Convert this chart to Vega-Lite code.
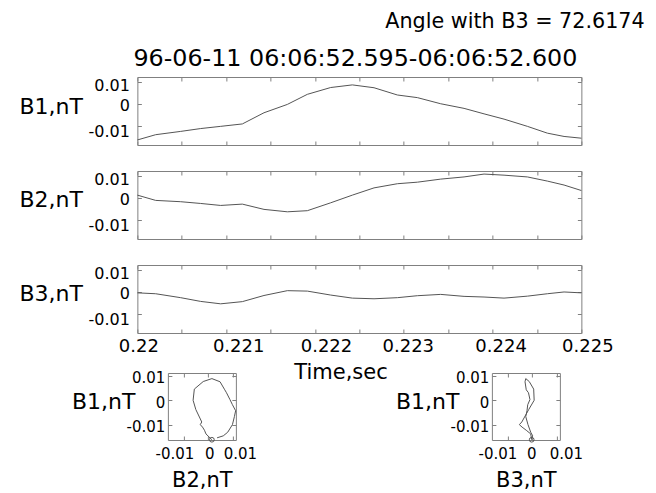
{
  "$schema": "https://vega.github.io/schema/vega-lite/v6.json",
  "padding": {"left": 18, "top": 10, "right": 5, "bottom": 2},
  "background": "white",
  "data": {"values": [
    {"t": 0.22, "B1": -0.0162, "B2": 0.0015, "B3": -0.0002},
    {"t": 0.220206, "B1": -0.0138, "B2": -0.0009, "B3": -0.0006},
    {"t": 0.220488, "B1": -0.0123, "B2": -0.0015, "B3": -0.0024},
    {"t": 0.220713, "B1": -0.0110, "B2": -0.0023, "B3": -0.0041},
    {"t": 0.220938, "B1": -0.0100, "B2": -0.0032, "B3": -0.0052},
    {"t": 0.221182, "B1": -0.0089, "B2": -0.0026, "B3": -0.0042},
    {"t": 0.221426, "B1": -0.0038, "B2": -0.0050, "B3": -0.0014},
    {"t": 0.221689, "B1": 0.0000, "B2": -0.0061, "B3": 0.0008},
    {"t": 0.221914, "B1": 0.0046, "B2": -0.0056, "B3": 0.0006},
    {"t": 0.222177, "B1": 0.0077, "B2": -0.0020, "B3": -0.0012},
    {"t": 0.222421, "B1": 0.0089, "B2": 0.0015, "B3": -0.0026},
    {"t": 0.222665, "B1": 0.0076, "B2": 0.0048, "B3": -0.0029},
    {"t": 0.222928, "B1": 0.0043, "B2": 0.0067, "B3": -0.0024},
    {"t": 0.223153, "B1": 0.0031, "B2": 0.0074, "B3": -0.0015},
    {"t": 0.223416, "B1": 0.0003, "B2": 0.0088, "B3": -0.0009},
    {"t": 0.223679, "B1": -0.0018, "B2": 0.0098, "B3": -0.0018},
    {"t": 0.223904, "B1": -0.0043, "B2": 0.0111, "B3": -0.0021},
    {"t": 0.224129, "B1": -0.0067, "B2": 0.0106, "B3": -0.0026},
    {"t": 0.224392, "B1": -0.0100, "B2": 0.0098, "B3": -0.0017},
    {"t": 0.224617, "B1": -0.0131, "B2": 0.0079, "B3": -0.0006},
    {"t": 0.224805, "B1": -0.0146, "B2": 0.0061, "B3": 0.0002},
    {"t": 0.225, "B1": -0.0154, "B2": 0.0036, "B3": -0.0002}
  ]},
  "title": {"text": "Angle with B3 = 72.6174", "anchor": "end", "fontSize": 20.7, "dx": 31, "offset": 14},
  "vconcat": [
    {
      "vconcat": [
        {
          "width": 444, "height": 68,
          "title": {"text": "96-06-11 06:06:52.595-06:06:52.600", "fontSize": 23.8, "anchor": "middle", "dx": -4, "offset": 6},
          "layer": [
            {"mark": {"type": "line", "color": "#555555", "strokeWidth": 1},
             "encoding": {
               "x": {"field": "t", "type": "quantitative", "scale": {"domain": [0.22, 0.225], "nice": false, "zero": false},
                     "axis": {"orient": "bottom", "values": [0.22, 0.2205, 0.221, 0.2215, 0.222, 0.2225, 0.223, 0.2235, 0.224, 0.2245, 0.225], "labels": false, "title": null}},
               "y": {"field": "B1", "type": "quantitative", "scale": {"domain": [-0.0185, 0.0125], "nice": false, "zero": false},
                     "axis": {"orient": "left", "values": [-0.01, 0, 0.01], "format": "~g", "labelExpr": "replace(datum.label, '−', '-')", "labelFontSize": 16, "labelPadding": 12,
                              "labelOffset": {"condition": [{"test": "datum.value > 0.005", "value": 3}, {"test": "datum.value < -0.005", "value": 5}], "value": 1},
                              "title": "B1,nT", "titleAngle": 0, "titleAlign": "right", "titleBaseline": "middle", "titleX": -55, "titleY": 29, "titleFontSize": 22}}
             }},
            {"mark": {"type": "line", "strokeOpacity": 0},
             "encoding": {
               "x": {"field": "t", "type": "quantitative", "axis": {"orient": "top", "values": [0.22, 0.2205, 0.221, 0.2215, 0.222, 0.2225, 0.223, 0.2235, 0.224, 0.2245, 0.225], "labels": false, "title": null}},
               "y": {"field": "B1", "type": "quantitative", "axis": {"orient": "right", "values": [-0.01, 0, 0.01], "labels": false, "title": null}}
             }}
          ],
          "resolve": {"axis": {"x": "independent", "y": "independent"}}
        },
        {
          "width": 444, "height": 68,
          "layer": [
            {"mark": {"type": "line", "color": "#555555", "strokeWidth": 1},
             "encoding": {
               "x": {"field": "t", "type": "quantitative", "scale": {"domain": [0.22, 0.225], "nice": false, "zero": false},
                     "axis": {"orient": "bottom", "values": [0.22, 0.2205, 0.221, 0.2215, 0.222, 0.2225, 0.223, 0.2235, 0.224, 0.2245, 0.225], "labels": false, "title": null}},
               "y": {"field": "B2", "type": "quantitative", "scale": {"domain": [-0.0185, 0.0125], "nice": false, "zero": false},
                     "axis": {"orient": "left", "values": [-0.01, 0, 0.01], "format": "~g", "labelExpr": "replace(datum.label, '−', '-')", "labelFontSize": 16, "labelPadding": 12,
                              "labelOffset": {"condition": [{"test": "datum.value > 0.005", "value": 3}, {"test": "datum.value < -0.005", "value": 5}], "value": 1},
                              "title": "B2,nT", "titleAngle": 0, "titleAlign": "right", "titleBaseline": "middle", "titleX": -55, "titleY": 28, "titleFontSize": 22}}
             }},
            {"mark": {"type": "line", "strokeOpacity": 0},
             "encoding": {
               "x": {"field": "t", "type": "quantitative", "axis": {"orient": "top", "values": [0.22, 0.2205, 0.221, 0.2215, 0.222, 0.2225, 0.223, 0.2235, 0.224, 0.2245, 0.225], "labels": false, "title": null}},
               "y": {"field": "B2", "type": "quantitative", "axis": {"orient": "right", "values": [-0.01, 0, 0.01], "labels": false, "title": null}}
             }}
          ],
          "resolve": {"axis": {"x": "independent", "y": "independent"}}
        },
        {
          "width": 444, "height": 68,
          "layer": [
            {"mark": {"type": "line", "color": "#555555", "strokeWidth": 1},
             "encoding": {
               "x": {"field": "t", "type": "quantitative", "scale": {"domain": [0.22, 0.225], "nice": false, "zero": false},
                     "axis": {"orient": "bottom", "values": [0.22, 0.2205, 0.221, 0.2215, 0.222, 0.2225, 0.223, 0.2235, 0.224, 0.2245, 0.225],
                              "labelExpr": "round(datum.value * 2000) % 2 ? '' : format(datum.value, '~g')", "labelFontSize": 18, "labelPadding": 8,
                              "labelOffset": {"condition": [
                                {"test": "abs(datum.value - 0.221) < 0.00001", "value": 12},
                                {"test": "abs(datum.value - 0.222) < 0.00001", "value": 11},
                                {"test": "abs(datum.value - 0.223) < 0.00001", "value": 4},
                                {"test": "abs(datum.value - 0.224) < 0.00001", "value": 8},
                                {"test": "abs(datum.value - 0.225) < 0.00001", "value": 6}], "value": 1},
                              "title": null}},
               "y": {"field": "B3", "type": "quantitative", "scale": {"domain": [-0.0185, 0.0125], "nice": false, "zero": false},
                     "axis": {"orient": "left", "values": [-0.01, 0, 0.01], "format": "~g", "labelExpr": "replace(datum.label, '−', '-')", "labelFontSize": 16, "labelPadding": 12,
                              "labelOffset": {"condition": [{"test": "datum.value > 0.005", "value": 3}, {"test": "datum.value < -0.005", "value": 5}], "value": 1},
                              "title": "B3,nT", "titleAngle": 0, "titleAlign": "right", "titleBaseline": "middle", "titleX": -55, "titleY": 28, "titleFontSize": 22}}
             }},
            {"mark": {"type": "line", "strokeOpacity": 0},
             "encoding": {
               "x": {"field": "t", "type": "quantitative", "axis": {"orient": "top", "values": [0.22, 0.2205, 0.221, 0.2215, 0.222, 0.2225, 0.223, 0.2235, 0.224, 0.2245, 0.225], "labels": false, "title": null}},
               "y": {"field": "B3", "type": "quantitative", "axis": {"orient": "right", "values": [-0.01, 0, 0.01], "labels": false, "title": null}}
             }}
          ],
          "resolve": {"axis": {"x": "independent", "y": "independent"}}
        }
      ],
      "spacing": 24,
      "resolve": {"scale": {"y": "independent"}}
    },
    {
      "title": {"text": "Time,sec", "fontSize": 21, "anchor": "middle", "dx": 25, "offset": -13},
      "hconcat": [
        {
          "width": 68, "height": 67,
          "layer": [
            {"mark": {"type": "line", "color": "#555555", "strokeWidth": 1},
             "encoding": {
               "x": {"field": "B2", "type": "quantitative", "scale": {"domain": [-0.0163, 0.0112], "nice": false, "zero": false},
                     "axis": {"orient": "bottom", "values": [-0.01, 0, 0.01], "format": "~g", "labelExpr": "replace(datum.label, '−', '-')", "labelFontSize": 15, "labelPadding": 10,
                              "labelOffset": {"condition": [{"test": "datum.value < -0.005", "value": -9}, {"test": "datum.value > 0.005", "value": 7}], "value": 1},
                              "title": "B2,nT", "titleFontSize": 21, "titlePadding": 8}},
               "y": {"field": "B1", "type": "quantitative", "scale": {"domain": [-0.0163, 0.0112], "nice": false, "zero": false},
                     "axis": {"orient": "left", "values": [-0.01, 0, 0.01], "format": "~g", "labelExpr": "replace(datum.label, '−', '-')", "labelFontSize": 15, "labelPadding": 7, "labelOffset": 2,
                              "title": "B1,nT", "titleAngle": 0, "titleAlign": "right", "titleBaseline": "middle", "titleX": -33, "titleY": 28, "titleFontSize": 22}},
               "order": {"field": "t", "type": "quantitative"}
             }},
            {"transform": [{"filter": "datum.t == 0.22"}],
             "mark": {"type": "point", "shape": "circle", "filled": false, "size": 22, "color": "#555555", "strokeWidth": 1, "opacity": 1},
             "encoding": {
               "x": {"field": "B2", "type": "quantitative", "axis": null},
               "y": {"field": "B1", "type": "quantitative", "axis": null}
             }},
            {"mark": {"type": "line", "strokeOpacity": 0},
             "encoding": {
               "x": {"field": "B2", "type": "quantitative", "axis": {"orient": "top", "values": [-0.01, 0, 0.01], "labels": false, "title": null}},
               "y": {"field": "B1", "type": "quantitative", "axis": {"orient": "right", "values": [-0.01, 0, 0.01], "labels": false, "title": null}},
               "order": {"field": "t", "type": "quantitative"}
             }},
            {"mark": {"type": "line", "strokeOpacity": 0},
             "encoding": {
               "x": {"field": "B2", "type": "quantitative", "axis": null},
               "y": {"field": "B1", "type": "quantitative", "axis": {"orient": "left", "values": [0], "labels": false, "title": null, "tickSize": 118, "tickColor": "transparent"}},
               "order": {"field": "t", "type": "quantitative"}
             }}
          ],
          "resolve": {"axis": {"x": "independent", "y": "independent"}}
        },
        {
          "width": 68, "height": 67,
          "layer": [
            {"mark": {"type": "line", "color": "#555555", "strokeWidth": 1},
             "encoding": {
               "x": {"field": "B3", "type": "quantitative", "scale": {"domain": [-0.0163, 0.0112], "nice": false, "zero": false},
                     "axis": {"orient": "bottom", "values": [-0.01, 0, 0.01], "format": "~g", "labelExpr": "replace(datum.label, '−', '-')", "labelFontSize": 15, "labelPadding": 10,
                              "labelOffset": {"condition": [{"test": "datum.value < -0.005", "value": -10}, {"test": "datum.value > 0.005", "value": 9}], "value": -1},
                              "title": "B3,nT", "titleFontSize": 21, "titlePadding": 8}},
               "y": {"field": "B1", "type": "quantitative", "scale": {"domain": [-0.0163, 0.0112], "nice": false, "zero": false},
                     "axis": {"orient": "left", "values": [-0.01, 0, 0.01], "format": "~g", "labelExpr": "replace(datum.label, '−', '-')", "labelFontSize": 15, "labelPadding": 7, "labelOffset": 2,
                              "title": "B1,nT", "titleAngle": 0, "titleAlign": "right", "titleBaseline": "middle", "titleX": -33, "titleY": 28, "titleFontSize": 22}},
               "order": {"field": "t", "type": "quantitative"}
             }},
            {"transform": [{"filter": "datum.t == 0.22"}],
             "mark": {"type": "point", "shape": "circle", "filled": false, "size": 22, "color": "#555555", "strokeWidth": 1, "opacity": 1},
             "encoding": {
               "x": {"field": "B3", "type": "quantitative", "axis": null},
               "y": {"field": "B1", "type": "quantitative", "axis": null}
             }},
            {"mark": {"type": "line", "strokeOpacity": 0},
             "encoding": {
               "x": {"field": "B3", "type": "quantitative", "axis": {"orient": "top", "values": [-0.01, 0, 0.01], "labels": false, "title": null}},
               "y": {"field": "B1", "type": "quantitative", "axis": {"orient": "right", "values": [-0.01, 0, 0.01], "labels": false, "title": null}},
               "order": {"field": "t", "type": "quantitative"}
             }}
          ],
          "resolve": {"axis": {"x": "independent", "y": "independent"}}
        }
      ],
      "spacing": 137,
      "resolve": {"scale": {"x": "independent", "y": "independent"}}
    }
  ],
  "spacing": 6,
  "center": true,
  "resolve": {"scale": {"x": "independent", "y": "independent"}},
  "config": {
    "font": "DejaVu Sans",
    "view": {"stroke": "#808080", "strokeWidth": 1},
    "axis": {"domain": false, "grid": false, "tickColor": "#808080", "tickSize": -4, "tickWidth": 1,
             "labelColor": "#000000", "titleColor": "#000000", "titleFontWeight": "normal",
             "labelFont": "DejaVu Sans", "titleFont": "DejaVu Sans", "labelFlush": false, "labelOverlap": false, "labelBound": false},
    "title": {"fontWeight": "normal", "color": "#000000", "font": "DejaVu Sans"}
  }
}
